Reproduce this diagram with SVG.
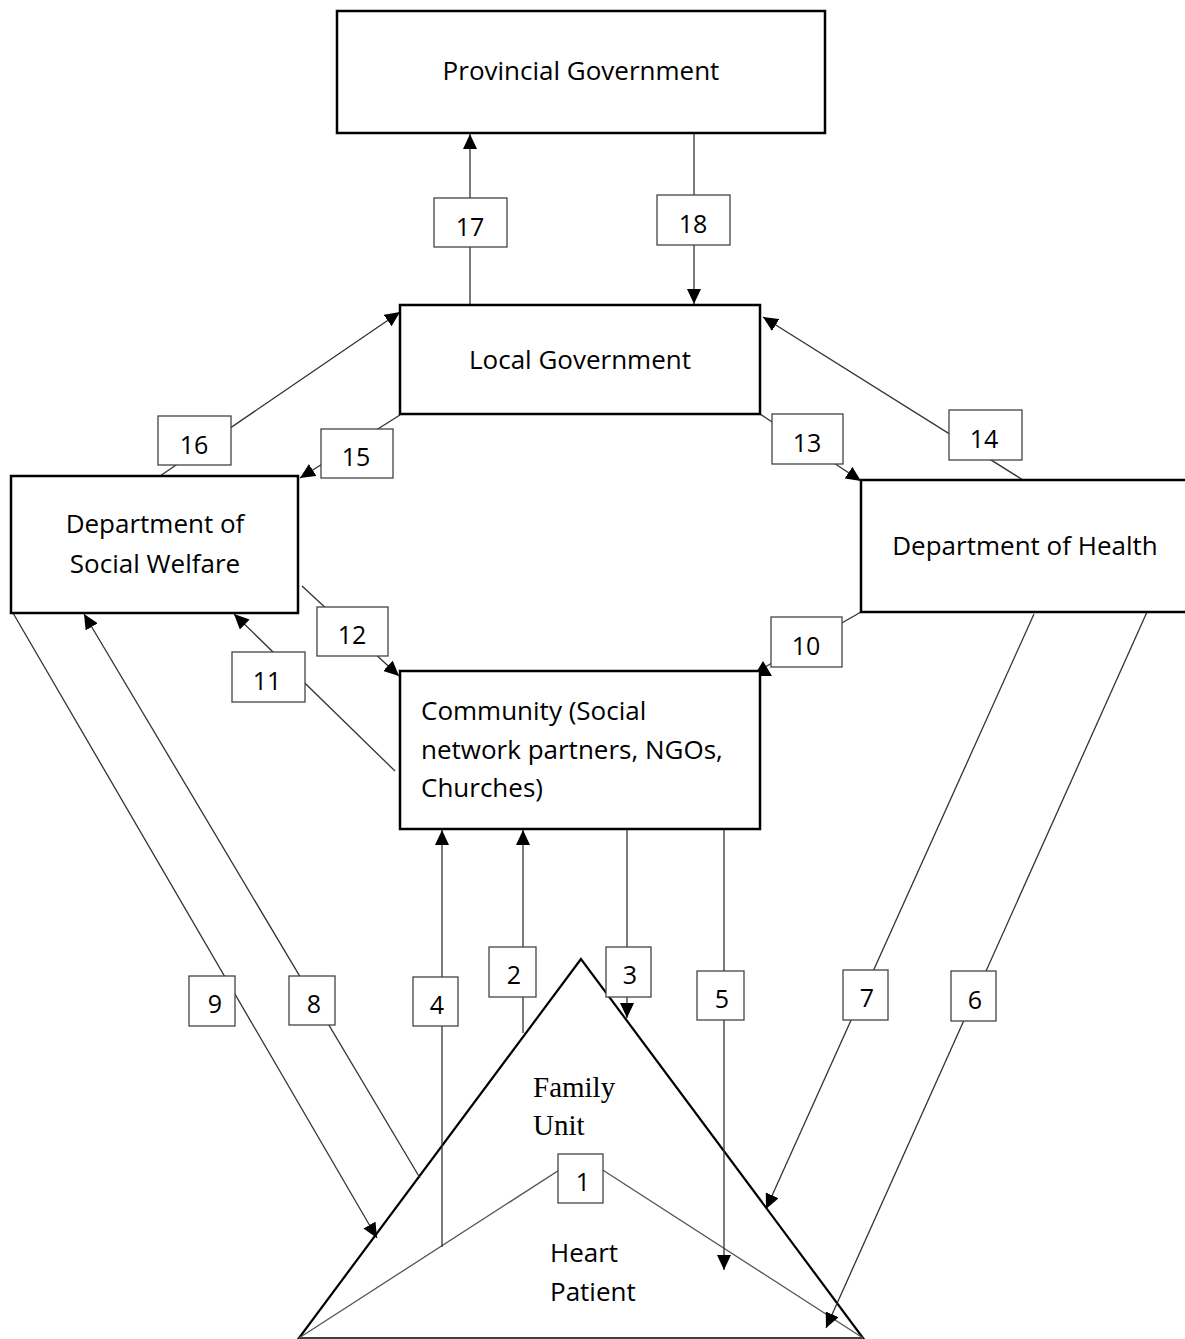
<svg xmlns="http://www.w3.org/2000/svg" width="1185" height="1339" viewBox="0 0 1185 1339">
<defs>
<marker id="arr" markerUnits="userSpaceOnUse" markerWidth="16" markerHeight="14" refX="15" refY="7" orient="auto">
<path d="M0,0 L15,7 L0,14 z" fill="#000"/>
</marker>
<style>
.box{fill:#fff;stroke:#000;stroke-width:2.5}
.num{fill:#fff;stroke:#444;stroke-width:1.3}
.ln{stroke:#333;stroke-width:1.3;fill:none}
.ar{marker-end:url(#arr)}
.t{font-family:"Open Sans","Noto Sans",sans-serif;font-size:26px;fill:#000}
.n{font-family:"Open Sans","Noto Sans",sans-serif;font-size:25px;fill:#000;text-anchor:middle}
.serif{font-family:"Liberation Serif","Times New Roman",serif;font-size:29px;fill:#000}
</style>
</defs>
<rect width="1185" height="1339" fill="#fff"/>

<g id="family-unit">
<polygon points="581,959 299,1338 863,1338" fill="none" stroke="#000" stroke-width="2.2"/>
<text class="serif" x="533" y="1097">Family</text>
<text class="serif" x="533" y="1135">Unit</text>
</g>
<g id="heart-patient">
<polyline points="299,1338 581,1156 863,1338" fill="none" stroke="#555" stroke-width="1.3"/>
<line x1="299" y1="1338" x2="863" y2="1338" stroke="#555" stroke-width="1.3"/>
<text class="t" x="550" y="1262">Heart</text>
<text class="t" x="550" y="1301">Patient</text>
</g>

<g id="connectors">
<line class="ln ar" x1="470" y1="305" x2="470" y2="134"/>
<line class="ln ar" x1="694" y1="133" x2="694" y2="304"/>
<line class="ln ar" x1="160" y1="476" x2="400" y2="312"/>
<line class="ln ar" x1="400" y1="415" x2="300" y2="478"/>
<line class="ln ar" x1="1023" y1="480" x2="763" y2="317"/>
<line class="ln ar" x1="760" y1="414" x2="861" y2="481"/>
<line class="ln ar" x1="302" y1="586" x2="399" y2="676"/>
<line class="ln ar" x1="395" y1="771" x2="234" y2="614"/>
<line class="ln" x1="861" y1="612" x2="765" y2="667"/>
<polygon points="763,661 754,676 772,676" fill="#000"/>
<line class="ln ar" x1="13" y1="613" x2="377" y2="1238"/>
<line class="ln ar" x1="420" y1="1178" x2="84" y2="614"/>
<line class="ln ar" x1="1034" y1="614" x2="766" y2="1209"/>
<line class="ln ar" x1="1147" y1="612" x2="826" y2="1328"/>
<line class="ln ar" x1="442" y1="1247" x2="442" y2="830"/>
<line class="ln ar" x1="523" y1="1033" x2="523" y2="830"/>
<line class="ln ar" x1="627" y1="829" x2="627" y2="1018"/>
<line class="ln ar" x1="724" y1="829" x2="724" y2="1270"/>
</g>

<g id="provincial-government">
<rect class="box" x="337" y="11" width="488" height="122"/>
<text class="t" x="581" y="80" text-anchor="middle">Provincial Government</text>
</g>
<g id="local-government">
<rect class="box" x="400" y="305" width="360" height="109"/>
<text class="t" x="580" y="369" text-anchor="middle">Local Government</text>
</g>
<g id="dept-social-welfare">
<rect class="box" x="11" y="476" width="287" height="137"/>
<text class="t" x="155" y="533" text-anchor="middle">Department of</text>
<text class="t" x="155" y="573" text-anchor="middle">Social Welfare</text>
</g>
<g id="dept-health">
<rect class="box" x="861" y="480" width="330" height="132"/>
<text class="t" x="1025" y="555" text-anchor="middle">Department of Health</text>
</g>
<g id="community">
<rect class="box" x="400" y="671" width="360" height="158"/>
<text class="t" x="421" y="720">Community (Social</text>
<text class="t" x="421" y="759">network partners, NGOs,</text>
<text class="t" x="421" y="797">Churches)</text>
</g>

<g id="label-1"><rect class="num" x="558" y="1154" width="45" height="49"/><text class="n" x="583" y="1191">1</text></g>
<g id="label-2"><rect class="num" x="489" y="947" width="47" height="50"/><text class="n" x="514" y="984">2</text></g>
<g id="label-3"><rect class="num" x="606" y="947" width="45" height="50"/><text class="n" x="630" y="984">3</text></g>
<g id="label-4"><rect class="num" x="413" y="977" width="45" height="49"/><text class="n" x="437" y="1014">4</text></g>
<g id="label-5"><rect class="num" x="697" y="971" width="47" height="49"/><text class="n" x="722" y="1008">5</text></g>
<g id="label-6"><rect class="num" x="951" y="971" width="45" height="50"/><text class="n" x="975" y="1009">6</text></g>
<g id="label-7"><rect class="num" x="843" y="970" width="45" height="50"/><text class="n" x="867" y="1007">7</text></g>
<g id="label-8"><rect class="num" x="289" y="976" width="46" height="49"/><text class="n" x="314" y="1013">8</text></g>
<g id="label-9"><rect class="num" x="189" y="976" width="46" height="50"/><text class="n" x="215" y="1013">9</text></g>
<g id="label-10"><rect class="num" x="771" y="617" width="71" height="50"/><text class="n" x="806" y="655">10</text></g>
<g id="label-11"><rect class="num" x="232" y="652" width="73" height="50"/><text class="n" x="267" y="690">11</text></g>
<g id="label-12"><rect class="num" x="317" y="607" width="71" height="49"/><text class="n" x="352" y="644">12</text></g>
<g id="label-13"><rect class="num" x="772" y="414" width="71" height="50"/><text class="n" x="807" y="452">13</text></g>
<g id="label-14"><rect class="num" x="949" y="410" width="73" height="50"/><text class="n" x="984" y="448">14</text></g>
<g id="label-15"><rect class="num" x="321" y="429" width="72" height="49"/><text class="n" x="356" y="466">15</text></g>
<g id="label-16"><rect class="num" x="158" y="416" width="73" height="49"/><text class="n" x="194" y="454">16</text></g>
<g id="label-17"><rect class="num" x="434" y="198" width="73" height="49"/><text class="n" x="470" y="236">17</text></g>
<g id="label-18"><rect class="num" x="657" y="195" width="73" height="50"/><text class="n" x="693" y="233">18</text></g>
</svg>
